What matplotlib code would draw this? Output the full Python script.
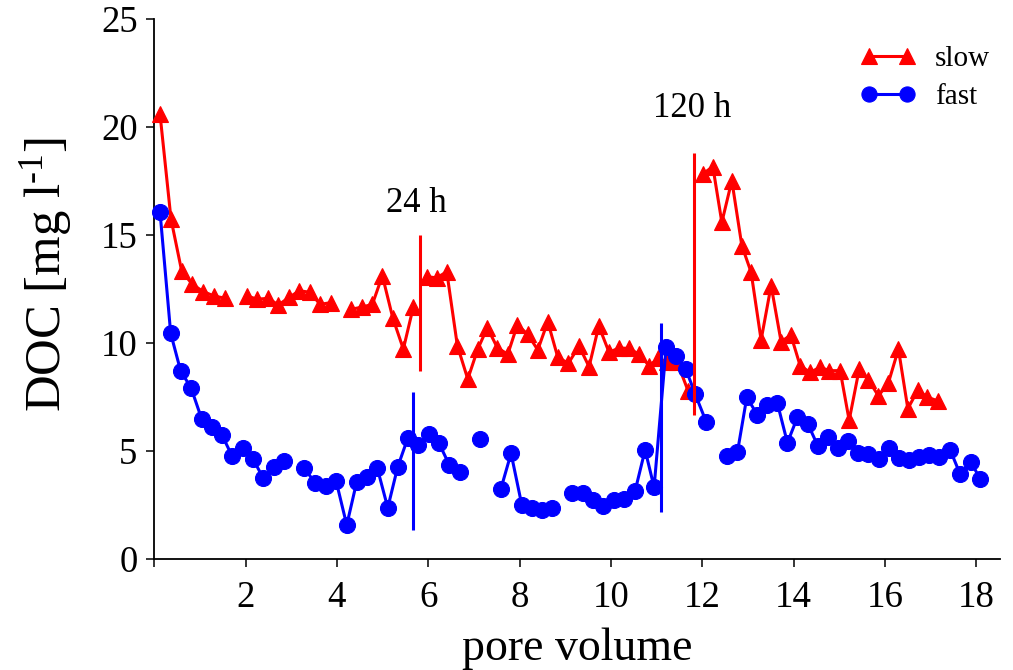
import numpy as np
import matplotlib
matplotlib.use("Agg")
import matplotlib.pyplot as plt

plt.rcParams['font.family'] = ['Liberation Serif', 'DejaVu Serif']
plt.rcParams['mathtext.fontset'] = 'custom'
plt.rcParams['mathtext.rm'] = 'Liberation Serif'
plt.rcParams['mathtext.it'] = 'Liberation Serif:italic'

nan = np.nan

# ---- data: slow (red triangles); NaN = line break ----
slow_x = [0.127, 0.368, 0.602, 0.834, 1.075, 1.310, 1.557, 1.792,
          2.026, 2.258, 2.499, 2.718, 2.959, 3.178, 3.412, 3.631, 3.866, 4.090,
          4.304, 4.544, 4.777, 4.996, 5.223, 5.455, 5.675, 5.830,
          5.968, 6.187, 6.406, 6.638, 6.866, 7.085, 7.295, 7.514, 7.742, 7.952,
          8.180, 8.399, 8.618, 8.837, 9.069, 9.303, 9.522, 9.735, 9.960, 10.179,
          10.398, 10.617, 10.836, 11.040, 11.231, 11.450, 11.691, 11.810,
          12.013, 12.232, 12.429, 12.648, 12.867, 13.070, 13.289, 13.508, 13.727,
          13.940, 14.144, 14.363, 14.582, 14.785, 15.020, 15.217, 15.436, 15.639,
          15.858, 16.077, 16.296, 16.502, 16.721, 16.931, 17.159]
slow_y = [20.59, 15.72, 13.31, 12.70, 12.36, 12.16, 12.05, nan,
          12.16, 12.01, 12.05, 11.74, 12.10, 12.40, 12.33, 11.77, 11.85, nan,
          11.54, 11.64, 11.77, 13.10, 11.15, 9.70, 11.66, nan,
          13.05, 13.00, 13.28, 9.86, 8.31, 9.70, 10.69, 9.76, 9.46, 10.82,
          10.38, 9.66, 10.97, 9.32, 9.04, 9.84, 8.88, 10.77, 9.55, 9.75,
          9.73, 9.46, 8.93, 9.27, 9.10, 9.10, 7.76, nan,
          17.81, 18.15, 15.57, 17.50, 14.49, 13.26, 10.12, 12.64, 10.04,
          10.35, 8.93, 8.62, 8.86, 8.70, 8.70, 6.40, 8.76, 8.27,
          7.53, 8.14, 9.70, 6.94, 7.80, 7.47, 7.30]

# ---- data: fast (blue circles); NaN = missing sample ----
fast_x = [0.127, 0.361, 0.580, 0.806, 1.040, 1.259, 1.485, 1.704, 1.938, 2.170,
          2.389, 2.624, 2.849, 3.068,
          3.287, 3.522, 3.756, 3.982, 4.216, 4.435, 4.654, 4.886, 5.114, 5.333,
          5.552, 5.784, 6.012, 6.231, 6.463, 6.697, 6.916,
          7.135, 7.361,
          7.589, 7.814, 8.049, 8.268, 8.500, 8.719, 8.938,
          9.157, 9.385, 9.617, 9.836, 10.070, 10.296, 10.530, 10.749, 10.946,
          11.209, 11.428, 11.640, 11.844, 12.085, 12.310,
          12.538, 12.770, 12.976, 13.208, 13.414, 13.646, 13.865, 14.084, 14.312,
          14.531, 14.763, 14.982, 15.202, 15.420, 15.639, 15.873, 16.093, 16.312,
          16.537, 16.756, 16.975, 17.194, 17.429, 17.648, 17.882, 18.085]
fast_y = [16.06, 10.43, 8.68, 7.91, 6.46, 6.10, 5.72, 4.75, 5.10, 4.59,
          3.71, 4.25, 4.52, nan,
          4.18, 3.51, 3.36, 3.60, 1.55, 3.56, 3.76, 4.18, 2.35, 4.25,
          5.57, 5.26, 5.78, 5.36, 4.33, 4.02, nan,
          5.52, nan,
          3.21, 4.87, 2.48, 2.35, 2.25, 2.33, nan,
          3.02, 3.05, 2.71, 2.43, 2.71, 2.76, 3.13, 5.03, 3.30,
          9.78, 9.38, 8.78, 7.62, 6.34, nan,
          4.75, 4.92, 7.47, 6.65, 7.11, 7.19, 5.36, 6.54, 6.23,
          5.22, 5.64, 5.10, 5.44, 4.90, 4.83, 4.59, 5.13, 4.67,
          4.56, 4.72, 4.79, 4.69, 5.03, 3.90, 4.48, 3.68]

# ---- event markers (interruptions) ----
slow_event_x = [5.83, 11.81]
slow_event_lo = [8.7, 6.65]
slow_event_hi = [15.0, 18.77]
fast_event_x = [5.675, 11.09]
fast_event_lo = [1.32, 2.17]
fast_event_hi = [7.73, 10.89]
event_labels = ["24 h", "120 h"]
event_label_x = [5.73, 11.77]
event_label_y = [16.06, 20.46]

xticks = [0, 2, 4, 6, 8, 10, 12, 14, 16, 18]
xticklabels = ["", "2", "4", "6", "8", "10", "12", "14", "16", "18"]
yticks = [0, 5, 10, 15, 20, 25]

W, H = 1013, 670
fig = plt.figure(figsize=(W / 100, H / 100), dpi=100)
ax = fig.add_axes([154.2 / W, 111.5 / H, (1000 - 154.2) / W, 539.8 / H])

red = '#ff0000'
blue = '#0000ff'

ax.plot(slow_x, slow_y, color=red, lw=2.2, marker='^', ms=11.5,
        mec=red, mfc=red, mew=0.8, clip_on=False, zorder=3, label='slow')
ax.plot(fast_x, fast_y, color=blue, lw=2.2, marker='o', ms=11.5,
        mec=blue, mfc=blue, mew=0.8, clip_on=False, zorder=4, label='fast')

ax.vlines(slow_event_x, slow_event_lo, slow_event_hi, colors=red, lw=2.2, zorder=5)
ax.vlines(fast_event_x, fast_event_lo, fast_event_hi, colors=blue, lw=2.2, zorder=5)

for lab, lx, ly in zip(event_labels, event_label_x, event_label_y):
    ax.text(lx, ly, lab, ha='center', va='baseline', fontsize=25)

ax.set_xlim(0, 18.52)
ax.set_ylim(0, 25)
ax.set_xticks(xticks)
ax.set_xticklabels(xticklabels)
ax.set_yticks(yticks)

for s in ['top', 'right']:
    ax.spines[s].set_visible(False)
for s in ['left', 'bottom']:
    ax.spines[s].set_linewidth(1.3)

ax.tick_params(axis='both', direction='out', length=6, width=1.1, labelsize=26.5)
ax.tick_params(axis='x', pad=10)
ax.tick_params(axis='y', pad=6)

ax.set_xlabel('pore volume', fontsize=33, labelpad=9)
try:
    ylab = r'DOC [mg l$^{\text{-1}}$]'
    ax.set_ylabel(ylab, fontsize=36.5, labelpad=19)
    fig.canvas.draw()
except Exception:
    ax.set_ylabel(r'DOC [mg l$^{\mathrm{-1}}$]', fontsize=36.5, labelpad=19)
ax.yaxis.label.set_y(0.525)

leg = ax.legend(loc='upper right', bbox_to_anchor=(990 / W, 1 - 46 / H),
                bbox_transform=fig.transFigure, frameon=False, fontsize=21,
                numpoints=2, handlelength=1.9, handletextpad=0.65,
                labelspacing=0.4, borderpad=0, borderaxespad=0, markerscale=0.95)

fig.savefig('out.png', dpi=100)
